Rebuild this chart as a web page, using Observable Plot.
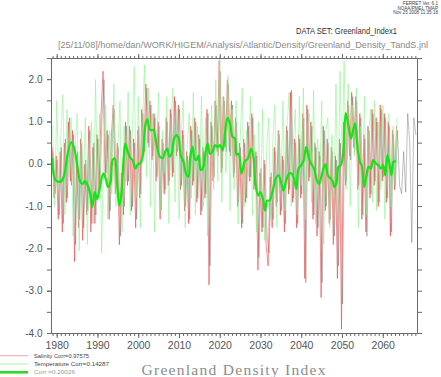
<!DOCTYPE html>
<html><head><meta charset="utf-8">
<script src="https://cdn.jsdelivr.net/npm/d3@7"></script>
<script src="https://cdn.jsdelivr.net/npm/@observablehq/plot@0.6"></script>
<style>body{margin:0;background:#fff;} svg{display:block}</style>
</head><body><div id="chart"></div>
<script>
// ---- data ----
const step = 0.5;
const salinityStart = 1978.75;
const salinity = [
 0.4,-0.8,0.2,-1.3,0.3,-1.6,0.5,-0.9,1.0,-0.4,0.8,-2.3,0.2,-1.5,0.6,-1.8,0.0,-1.2,0.9,-1.6,
 0.4,-1.4,0.7,-0.6,1.2,2.2,-0.3,0.8,-1.3,0.6,1.4,-0.7,0.5,-1.9,-0.2,-1.2,1.0,-0.5,0.9,-1.1,
 0.6,-1.5,0.8,-0.8,1.3,0.2,1.9,0.5,1.5,0.1,1.2,-0.4,1.0,-1.3,0.6,-0.7,1.1,-0.5,1.3,-0.3,
 1.6,0.2,1.4,-0.6,0.8,-1.1,0.3,-1.4,0.9,-0.5,1.1,-0.9,0.7,-1.2,0.4,-0.8,1.3,-2.85,1.0,-0.4,
 1.5,0.3,2.45,-0.2,1.6,0.4,2.0,0.3,1.5,-0.3,1.1,-1.0,0.5,-1.5,0.6,-0.9,1.0,-0.4,1.2,-0.6,
 0.3,-2.5,-0.2,-1.6,0.1,-1.9,-2.4,-0.3,-1.5,0.4,-1.0,0.8,-1.2,0.2,-1.6,0.9,-0.7,1.7,-0.9,0.6,
 -1.5,0.7,-0.8,1.2,-2.7,1.4,-0.4,1.0,-1.3,0.5,-1.7,0.3,-3.15,0.9,-1.1,0.6,-1.4,0.4,-1.9,0.2,
 -2.7,0.6,-3.9,1.0,-0.5,1.5,0.2,1.7,0.4,1.6,-0.6,1.2,-1.3,0.7,-1.6,0.9,-0.8,1.3,-0.5,1.1,
 -1.0,1.4,-0.4,1.2,-0.9,1.0,-1.7,0.8,-0.6,0.9
];
const temperatureStart = 1978.9;
const temperature = [
 0.9,-1.0,1.5,-0.6,0.7,1.65,-1.2,1.3,-0.3,1.1,-1.7,0.4,1.2,-2.05,0.8,-0.5,1.1,-1.9,0.3,1.0,
 -1.4,2.0,-0.9,1.2,-2.1,0.5,1.4,-1.3,0.8,-0.7,1.9,-1.0,0.4,1.5,-1.6,0.9,-0.4,1.7,-1.2,0.6,
 2.3,-0.8,1.6,-1.5,0.7,2.35,-0.3,1.8,-1.0,1.2,-1.6,0.5,1.7,-1.1,0.8,-0.2,1.6,-1.4,1.0,1.8,
 -0.9,1.3,-1.3,0.6,1.5,-1.5,0.4,1.2,-0.8,1.7,-1.2,0.9,-0.3,1.6,-1.0,1.1,-1.7,0.5,1.4,-0.6,
 2.0,-0.4,2.5,-0.9,1.6,-0.2,2.1,-1.1,1.3,-0.6,1.5,-1.4,0.6,1.8,-1.0,0.8,-0.3,1.6,-1.2,0.7,
 -1.6,1.0,-0.8,1.3,-1.8,0.4,1.1,-1.3,0.5,1.4,-1.5,0.8,-0.6,1.5,-1.1,0.9,1.7,-1.0,0.4,1.3,
 -1.2,1.6,-0.5,1.8,-1.3,0.9,1.2,-0.9,1.75,-1.4,0.6,-0.4,1.5,-1.9,0.8,1.1,-1.5,0.7,-0.8,1.9,
 -1.2,2.2,0.1,2.45,-0.6,1.9,-1.0,1.4,0.2,1.8,-1.5,0.9,-0.4,1.6,-1.2,0.7,1.3,-0.9,1.5,-1.1,
 1.0,-0.6,1.4,-1.3,0.8,1.2,-1.0,0.9,-0.5,1.1
];
const densityStart = 1979.0;
const density = [
 0.3,-0.7,0.1,-1.2,0.4,-1.4,0.6,-0.8,1.1,-0.5,0.7,-1.9,0.3,-1.3,0.5,-1.5,0.1,-1.1,0.8,-1.4,
 0.5,-1.2,0.6,-0.5,1.1,2.0,-0.2,0.7,-1.1,0.5,1.3,-0.6,0.4,-1.7,-0.3,-1.0,0.9,-0.4,0.8,-1.0,
 0.5,-1.3,0.9,-0.7,1.2,0.3,1.8,0.4,1.4,0.2,1.1,-0.3,0.9,-1.1,0.5,-0.6,1.0,-0.4,1.2,-0.2,
 1.5,0.3,1.3,-0.5,0.7,-1.0,0.2,-1.3,0.8,-0.4,1.0,-0.8,0.6,-1.1,0.3,-0.7,1.2,-2.4,0.9,-0.3,
 1.4,0.2,2.2,-0.1,1.5,0.3,1.9,0.2,1.4,-0.2,1.0,-0.9,0.4,-1.4,0.5,-0.8,0.9,-0.3,1.1,-0.5,
 0.2,-2.2,-0.1,-1.5,0.0,-1.7,-2.1,-0.2,-1.3,0.3,-0.9,0.7,-1.1,0.1,-1.4,0.8,-0.6,1.75,-0.8,0.5,
 -1.4,0.6,-0.7,1.1,-2.8,1.3,-0.3,0.9,-1.2,0.4,-1.5,0.2,-2.8,0.8,-1.0,0.5,-1.3,0.3,-1.7,0.1,
 -2.4,0.5,-3.3,0.9,-0.4,1.4,0.1,1.6,0.3,1.5,-0.5,1.1,-1.2,0.6,-1.7,0.8,-0.7,1.2,-0.4,1.0,
 -0.9,1.3,-0.3,1.1,-0.8,0.9,-1.6,0.7,-0.5,0.8,
 -0.5,-0.7,0.3,-0.66,1.2,0.5,-1.85,1.1,0.7
];
const corrYears = [
 1978.8,1979.6,1980.8,1981.6,1982.5,1983.4,1984.1,1984.9,1985.7,1986.3,1986.8,1987.4,1988.0,1988.6,1989.2,1989.8,
 1990.4,1991.3,1991.9,1992.5,1993.1,1993.6,1994.1,1994.7,1995.2,1995.7,1996.3,1996.7,1997.3,1998.0,1998.5,1999.2,
 1999.8,2000.4,2000.9,2001.3,2001.7,2002.1,2002.8,2003.6,2004.4,2005.2,2005.9,2006.5,2007.0,2007.5,2008.1,2008.7,
 2009.3,2009.8,2010.3,2011.0,2011.6,2012.2,2012.6,2013.2,2013.7,2014.2,2014.7,2015.2,2015.9,2016.3,2016.9,2017.5,
 2018.1,2018.7,2019.3,2020.0,2020.6,2021.2,2021.8,2022.4,2023.0,2023.6,2024.0,2024.5,2025.2,2026.0,2026.8,2027.6,
 2028.2,2028.7,2029.3,2029.8,2030.5,2031.0,2031.5,2032.1,2032.8,2033.6,2034.3,2035.0,2035.5,2036.2,2036.9,2037.5,
 2038.1,2038.7,2039.2,2039.9,2040.5,2041.1,2041.8,2042.3,2043.0,2043.6,2044.2,2044.8,2045.3,2045.8,2046.4,2047.1,
 2047.6,2048.0,2048.5,2049.0,2049.6,2050.2,2050.8,2051.4,2052.1,2052.6,2053.1,2053.7,2054.3,2054.8,2055.3,2055.9,
 2056.4,2057.0,2057.5,2058.2,2058.8,2059.4,2060.0,2060.5,2061.0,2061.6,2062.0,2062.5,2062.9
];
const corrValues = [
 0.14,-0.37,-0.41,-0.30,0.21,0.52,0.41,-0.02,-0.42,-0.46,-0.40,-0.48,-0.66,-1.01,-0.66,-0.82,
 -0.58,-0.22,-0.34,-0.54,-0.42,0.10,0.14,-0.42,-0.98,-0.74,0.14,0.49,0.30,0.14,0.10,-0.10,
 0.0,0.02,0.14,0.6,0.95,1.07,0.81,0.81,0.45,0.18,0.15,0.30,0.37,0.18,0.25,0.61,
 0.69,0.61,0.21,0.06,-0.22,-0.30,0.14,0.41,0.14,0.10,0.21,-0.14,-0.06,0.21,0.49,0.25,
 0.30,0.45,0.41,0.45,0.33,0.77,1.09,0.97,0.65,0.61,0.23,0.25,-0.22,0.06,0.14,0.37,
 0.14,-0.50,-0.74,-0.66,-0.82,-1.10,-0.86,-0.86,-0.66,-0.34,-0.26,-0.46,-0.62,-0.38,-0.22,-0.22,
 -0.34,-0.58,-0.10,-0.02,0.10,0.41,0.14,0.02,-0.10,-0.34,-0.46,-0.30,-0.10,0.0,-0.26,-0.34,
 -0.40,-0.54,-0.46,-0.06,-0.02,0.30,1.21,0.93,0.61,0.81,0.97,0.37,0.06,-0.06,-0.54,-0.26,
 -0.06,-0.10,0.10,0.02,-0.02,-0.10,-0.02,-0.26,0.21,-0.02,-0.26,0.06,0.07
];
const xMajorTicks = [1980,1990,2000,2010,2020,2030,2040,2050,2060];
const xMinorTicks = d3.range(1979, 2069, 1);
const yTicks = [-4,-3.5,-3,-2.5,-2,-1.5,-1,-0.5,0,0.5,1,1.5,2,2.5];
const yLabelled = [-4,-3,-2,-1,0,1,2];
const legendLabels = ["Salinity Corr=0.97575","Temperature Corr=0.14287","Corr =0.20026"];
const headerLines = ["FERRET Ver. 6.1","NOAA/PMEL TMAP","Nov 25 2008 11:35:18"];
const dataSetLabel = "DATA SET: Greenland_Index1";
const pathLabel = "[25/11/08]/home/dan/WORK/HIGEM/Analysis/Atlantic/Density/Greenland_Density_TandS.jnl";
const titleText = "Greenland Density Index";

// ---- tables ----
const sal = salinity.map((v,i)=>({t: salinityStart + i*step, v}));
const tem = temperature.map((v,i)=>({t: temperatureStart + i*step, v}));
const den = density.map((v,i)=>({t: densityStart + i*step, v}));
const cor = corrYears.map((t,i)=>({t, v: corrValues[i]}));

const axisColor = "#6a6a6a";
const labelColor = "#555";
const blank = () => "";

const chart = Plot.plot({
  width: 441, height: 377,
  marginTop: 58, marginBottom: 44, marginLeft: 51, marginRight: 24,
  style: {fontFamily: "Liberation Sans, Arial, sans-serif", background: "#fff", color: labelColor},
  x: {domain: [1978.6, 2068.4], axis: null, label: null},
  y: {domain: [-4, 2.5], axis: null, label: null},
  marks: [
    Plot.line(den, {x: "t", y: "v", stroke: "#4a4a4a", strokeWidth: 0.7, strokeOpacity: 0.5}),
    Plot.line(sal, {x: "t", y: "v", stroke: "#e03a3a", strokeWidth: 0.8, strokeOpacity: 0.7}),
    Plot.line(tem, {x: "t", y: "v", stroke: "#8af08a", strokeWidth: 0.8, strokeOpacity: 0.7}),
    Plot.line(cor, {x: "t", y: "v", stroke: "#14e614", strokeWidth: 2.2, curve: "catmull-rom"}),
    Plot.frame({stroke: axisColor}),
    Plot.axisY(yTicks, {anchor: "left", tickSize: 4, stroke: axisColor, tickFormat: blank, label: null}),
    Plot.axisY(yLabelled, {anchor: "left", tickSize: 4, tickPadding: 5, stroke: axisColor, fontSize: 10, fill: labelColor, tickFormat: d => d.toFixed(1), label: null}),
    Plot.axisY(yTicks, {anchor: "right", tickSize: 4, stroke: axisColor, tickFormat: blank, label: null}),
    Plot.axisX(xMinorTicks, {anchor: "bottom", tickSize: 3, stroke: axisColor, tickFormat: blank, label: null}),
    Plot.axisX(xMajorTicks, {anchor: "bottom", tickSize: 5, tickPadding: 3, stroke: axisColor, fontSize: 10.5, fill: labelColor, tickFormat: d => String(d), label: null}),
    Plot.axisX(xMinorTicks, {anchor: "top", tickSize: 3, stroke: axisColor, tickFormat: blank, label: null}),
    Plot.axisX(xMajorTicks, {anchor: "top", tickSize: 5, stroke: axisColor, tickFormat: blank, label: null})
  ]
});
document.getElementById("chart").appendChild(chart);

// ---- annotations (header, legend, title) ----
const svg = d3.select(chart);
const g = svg.append("g").attr("font-family", "Liberation Sans, Arial, sans-serif").attr("text-anchor", "start");
headerLines.forEach((s, i) => {
  g.append("text").attr("x", 438).attr("y", 5 + i*4.6).attr("text-anchor", "end")
   .attr("font-size", 4.6).attr("fill", "#444").text(s);
});
g.append("text").attr("x", 296).attr("y", 34).attr("text-anchor", "start").attr("font-size", 8.6).attr("fill", "#333")
 .attr("textLength", 101).attr("lengthAdjust", "spacingAndGlyphs").text(dataSetLabel);
g.append("text").attr("x", 58).attr("y", 47.5).attr("text-anchor", "start").attr("font-size", 8.6).attr("fill", "#8a8a8a")
 .attr("textLength", 370).attr("lengthAdjust", "spacingAndGlyphs").text(pathLabel);

const legendStyles = [
  {stroke: "#f2a6a6", w: 1, fill: "#444", len: 55},
  {stroke: "#aaf0aa", w: 1, fill: "#444", len: 75},
  {stroke: "#22dd22", w: 2.5, fill: "#999", len: 41}
];
legendStyles.forEach((st, i) => {
  const y = 355.7 + i*8.3;
  g.append("line").attr("x1", 0).attr("x2", 28).attr("y1", y).attr("y2", y)
   .attr("stroke", st.stroke).attr("stroke-width", st.w);
  g.append("text").attr("x", 34).attr("y", y + 2).attr("text-anchor", "start").attr("font-size", 5.6).attr("fill", st.fill)
   .attr("textLength", st.len).attr("lengthAdjust", "spacingAndGlyphs").text(legendLabels[i]);
});
g.append("text").attr("x", 141.5).attr("y", 375).attr("text-anchor", "start").attr("font-family", "Liberation Serif, DejaVu Serif, serif")
 .attr("font-size", 15.5).attr("fill", "#8c8c8c").attr("textLength", 184).attr("lengthAdjust", "spacing")
 .text(titleText);
</script>
</body></html>
